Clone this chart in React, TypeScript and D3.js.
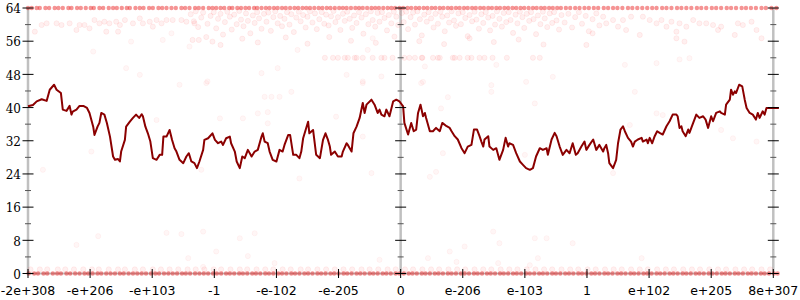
import React from 'react';
import * as d3 from 'd3';

// x positions are in "ordered float" units: 100 units per labelled tick
const xTickPos = [-600, -500, -400, -300, -200, -100, 0, 100, 200, 300, 400, 500, 600];
const xTickLabels = ['-2e+308', '-e+206', '-e+103', '-1', '-e-102', '-e-205', '0', 'e-206', 'e-103', '1', 'e+102', 'e+205', '8e+307'];
const yMajorTicks = [0, 8, 16, 24, 32, 40, 48, 56, 64];
const yMinorTicks = [4, 12, 20, 28, 36, 44, 52, 60];
const axisXs = [-600, 0, 600];

// moving-average line
const lineXs = [
  -600, -592, -586, -578, -570, -565, -558, -554, -547, -544, -538, -533, -530, -528, -522, -517, -511, -505, -501, -495,
  -493, -488, -485, -482, -477, -473, -468, -463, -460, -455, -452, -450, -444, -442, -436, -431, -426, -421, -417, -415,
  -411, -407, -403, -399, -393, -388, -384, -382, -377, -372, -368, -364, -361, -356, -350, -345, -341, -337, -332, -328,
  -324, -318, -316, -310, -303, -299, -294, -289, -286, -281, -275, -273, -267, -264, -259, -255, -251, -246, -240, -235,
  -230, -224, -222, -219, -214, -211, -206, -200, -195, -190, -187, -181, -178, -173, -168, -163, -160, -157, -153, -149,
  -147, -141, -136, -130, -125, -121, -117, -114, -112, -106, -101, -95, -93, -87, -85, -79, -76, -71, -66, -61,
  -58, -55, -47, -42, -37, -34, -31, -26, -23, -18, -12, -7, -2,
  0, 4, 6, 12, 17, 21, 25, 28, 32, 36, 39, 41, 47, 52, 57, 63, 67, 74, 79, 82,
  87, 92, 98, 103, 108, 114, 118, 123, 127, 130, 133, 135, 141, 143, 149, 154, 159, 165, 169, 173,
  175, 181, 186, 192, 197, 202, 208, 213, 218, 224, 229, 235, 237, 243, 248, 251, 256, 261, 267, 272,
  277, 282, 285, 291, 296, 299, 304, 310, 315, 320, 326, 328, 331, 334, 336, 342, 347, 350, 354, 358,
  361, 366, 371, 374, 377, 382, 388, 390, 396, 398, 401, 405, 409, 413, 417, 422, 428, 433, 438, 444,
  446, 449, 452, 454, 459, 463, 465, 468, 471, 473, 476, 481, 487, 491, 495, 500, 503, 505, 508, 514,
  516, 522, 524, 530, 532, 535, 538, 540, 545, 550, 554, 557, 562, 567, 572, 575, 578, 583, 586, 589,
  600, 609,
];
const lineValues = [
  40.3, 40.6, 41.5, 42.0, 41.6, 44.3, 45.5, 44.3, 43.5, 39.5, 39.2, 40.4, 38.3, 39.0, 39.5, 40.4, 40.4, 39.9, 38.7, 35.4,
  33.4, 35.4, 36.3, 38.7, 38.3, 36.3, 33.0, 28.2, 27.4, 27.6, 27.0, 29.4, 32.2, 35.4, 36.6, 37.5, 38.3, 37.5, 38.4, 37.9,
  35.4, 33.8, 31.8, 27.8, 27.4, 28.6, 28.6, 33.0, 33.0, 34.6, 32.2, 30.2, 29.4, 27.4, 26.6, 28.2, 29.0, 27.0, 26.6, 25.4,
  27.0, 29.8, 32.2, 32.6, 33.8, 32.2, 31.4, 31.8, 31.0, 32.6, 33.0, 31.4, 29.4, 27.0, 25.4, 28.2, 27.8, 29.8, 28.2, 29.4,
  29.8, 33.0, 33.8, 31.8, 31.4, 29.4, 27.4, 27.0, 29.8, 29.4, 31.0, 33.4, 33.4, 28.6, 28.6, 27.8, 29.4, 32.6, 34.6, 36.6,
  33.8, 34.6, 28.6, 27.8, 32.2, 33.8, 32.2, 30.6, 28.6, 29.4, 28.2, 28.2, 29.4, 31.4, 31.0, 29.4, 33.8, 35.4, 37.5, 41.1,
  38.7, 40.7, 41.9, 40.7, 38.7, 39.5, 38.3, 37.9, 39.5, 37.9, 41.5, 41.9, 41.5,
  41.1, 40.3, 36.3, 33.5, 36.3, 34.3, 34.7, 38.7, 40.7, 37.9, 38.7, 37.5, 34.3, 34.3, 35.1, 34.3, 36.3, 35.5, 35.1, 34.3,
  33.1, 32.3, 30.2, 29.0, 30.6, 31.0, 34.7, 34.7, 33.1, 31.8, 30.6, 32.3, 33.1, 30.6, 29.8, 30.2, 27.4, 29.8, 32.7, 30.6,
  31.4, 31.0, 29.0, 27.0, 26.2, 25.4, 25.0, 25.4, 28.2, 30.2, 29.8, 30.2, 28.6, 32.3, 33.9, 33.1, 30.6, 28.6, 29.8, 29.0,
  31.4, 28.6, 29.0, 30.6, 31.8, 29.8, 31.0, 32.3, 29.8, 31.0, 29.4, 30.2, 31.0, 29.0, 26.6, 25.4, 27.4, 31.4, 34.7, 35.5,
  34.3, 32.7, 31.8, 30.6, 31.8, 32.3, 32.7, 31.8, 32.3, 31.4, 32.7, 31.4, 33.1, 34.3, 33.9, 33.5, 35.5, 36.7, 38.3, 38.3,
  37.9, 35.1, 35.5, 34.3, 33.1, 34.7, 33.9, 35.1, 36.3, 37.1, 38.3, 37.5, 37.9, 37.1, 35.1, 37.9, 36.7, 37.5, 38.7, 39.1,
  38.7, 38.3, 40.7, 41.9, 44.3, 43.1, 43.9, 43.5, 45.5, 45.1, 41.9, 39.9, 38.7, 38.3, 37.1, 38.7, 37.5, 39.1, 38.3, 39.9,
  39.9, 39.9,
];

// samples sitting exactly at 64
const samplesAt64 = [
  -600, -594, -586, -581, -572, -566, -557, -551, -544, -535, -530, -521, -515, -507, -499, -494, -485, -479, -470, -463,
  -457, -449, -441, -436, -427, -420, -414, -405, -399, -390, -384, -377, -369, -362, -353, -347, -340, -331, -325, -318,
  -309, -303, -297, -290, -284, -276, -271, -263, -257, -250, -244, -236, -231, -224, -217, -211, -204, -198, -191, -185,
  -178, -171, -165, -158, -152, -146, -139, -132, -126, -119, -113, -106, -99, -93, -87, -80, -73, -67, -61, -54,
  -47, -41, -35, -28, -21, -15, -9, -2, 4, 11, 17, 24, 30, 37, 43, 50, 56, 63, 69, 76,
  82, 89, 95, 102, 108, 115, 121, 128, 134, 141, 147, 154, 160, 167, 173, 180, 186, 193, 199, 206,
  213, 219, 226, 232, 239, 245, 252, 258, 266, 273, 281, 288, 296, 303, 311, 318, 327, 334, 342, 349,
  357, 366, 373, 381, 389, 397, 405, 412, 421, 428, 436, 445, 452, 460, 468, 477, 484, 492, 501, 508,
  516, 525, 532, 540, 549, 556, 564, 572, 581, 588, 597, 605,
];
// samples sitting exactly at 0
const samplesAt0 = [
  -599, -590, -584, -575, -569, -560, -553, -547, -538, -532, -524, -517, -509, -503, -496, -488, -482, -474, -467, -460,
  -452, -446, -438, -431, -424, -417, -410, -402, -395, -389, -381, -374, -367, -360, -352, -346, -339, -331, -324, -317,
  -310, -302, -296, -289, -281, -275, -268, -260, -254, -247, -239, -233, -226, -218, -212, -205, -197, -191, -184, -176,
  -170, -163, -155, -149, -142, -134, -128, -121, -113, -107, -100, -92, -86, -79, -71, -65, -58, -50, -44, -37,
  -29, -23, -16, -8, -2, 5, 13, 19, 26, 34, 40, 47, 55, 61, 68, 76, 82, 89, 97, 103,
  110, 118, 124, 131, 139, 145, 152, 160, 166, 173, 181, 187, 194, 202, 208, 215, 223, 229, 236, 244,
  250, 257, 265, 271, 278, 286, 292, 299, 307, 313, 320, 328, 334, 341, 349, 355, 362, 370, 376, 383,
  391, 397, 404, 412, 418, 425, 433, 439, 446, 454, 460, 467, 475, 481, 488, 496, 502, 509, 517, 523,
  530, 538, 544, 551, 559, 565, 572, 580, 586, 593, 601, 607,
];
// samples sitting at 1
const samplesAt1 = [
  -596, -581, -569, -552, -540, -526, -511, -497, -486, -470, -455, -444, -428, -415, -399, -386, -372, -358, -343, -330,
  -316, -301, -289, -274, -259, -247, -232, -218, -205, -190, -177, -161, -149, -134, -120, -106, -92, -78, -63, -50,
  -36, -21, -8, 7, 20, 35, 49, 62, 77, 91, 104, 119, 133, 146, 161, 175, 188, 203, 217, 231,
  244, 259, 273, 286, 301, 314, 329, 343, 356, 371, 385, 398, 413, 427, 440, 455, 469, 482, 497, 511,
  524, 539, 553, 566, 581, 595,
];
// samples sitting at 52
const samplesAt52 = [
  -122, -109, -101, -90, -85, -74, -71, -61, -45, -31, -26, -13, 6, 14, 23, 34, 35, 52, 60, 63,
  84, 87, 95, 108, 114, 127, 135, 148, 171, 213, 224,
];
// other samples [x, value]
const samplesTop: [number, number][] = [
  [-589, 58.3], [-578, 59.9], [-570, 60.3], [-554, 60.3], [-546, 59.9], [-533, 60.3], [-517, 59.9], [-509, 59.9], [-501, 59.1], [-493, 61.1],
  [-485, 60.3], [-477, 60.7], [-469, 60.3], [-458, 60.7], [-444, 61.1], [-452, 59.9], [-431, 60.3], [-420, 61.5], [-415, 60.3], [-404, 60.7],
  [-393, 61.1], [-385, 60.3], [-377, 61.1], [-367, 61.1], [-353, 61.1], [-345, 60.7], [-335, 56.3], [-332, 60.3], [-522, 58.7], [-474, 58.3],
  [-455, 58.3], [-399, 59.5],
  [-338, 62.5], [-333, 60.8], [-330, 63.2], [-326, 59.4], [-321, 61.7], [-318, 62.9], [-313, 57.0], [-311, 60.2], [-306, 62.1], [-303, 55.9],
  [-301, 63.0], [-297, 59.1], [-294, 61.4], [-290, 62.6], [-286, 57.6], [-283, 60.6], [-279, 63.1], [-275, 61.9], [-272, 58.8], [-268, 62.4],
  [-264, 60.1], [-260, 63.3], [-257, 61.2], [-253, 59.6], [-249, 62.7], [-246, 60.9], [-242, 57.9], [-238, 62.2], [-235, 60.4], [-231, 63.0],
  [-228, 61.5], [-224, 59.0], [-220, 62.6], [-216, 60.7], [-213, 62.9], [-209, 58.5], [-205, 61.8], [-202, 63.2], [-198, 60.3], [-194, 62.1],
  [-191, 59.6], [-187, 61.4], [-183, 63.0], [-179, 60.0], [-176, 62.5], [-172, 58.2], [-168, 61.7], [-164, 63.1], [-161, 60.8], [-157, 62.3],
  [-153, 59.3], [-150, 61.9], [-146, 63.2], [-142, 60.5], [-138, 62.7], [-135, 58.9], [-131, 61.3], [-127, 63.0], [-123, 60.2], [-120, 62.4],
  [-116, 59.8], [-112, 62.0], [-108, 63.3], [-105, 60.6], [-101, 61.8], [-97, 58.7], [-93, 62.6], [-90, 60.9], [-86, 63.1], [-82, 61.4],
  [-78, 59.2], [-75, 62.2], [-71, 60.4], [-67, 63.0], [-63, 61.7], [-60, 57.8], [-56, 62.5], [-52, 60.1], [-48, 63.2], [-45, 61.1],
  [-41, 59.5], [-37, 62.8], [-34, 60.7], [-30, 63.0], [-26, 61.6], [-22, 58.6], [-19, 62.3], [-15, 60.3], [-11, 63.1], [-7, 61.9],
  [-4, 59.9],
  [2, 62.8], [5, 60.6], [9, 63.1], [12, 58.9], [16, 61.8], [20, 62.9], [23, 60.0], [27, 63.2], [31, 61.3], [34, 57.4],
  [38, 62.4], [42, 60.7], [45, 63.0], [49, 61.5], [53, 59.3], [56, 62.6], [60, 60.2], [64, 63.1], [67, 61.9], [71, 58.4],
  [75, 62.2], [78, 60.5], [82, 63.2], [86, 61.0], [89, 59.7], [93, 62.7], [97, 60.1], [100, 63.0], [104, 61.6], [108, 57.2],
  [111, 62.3], [115, 60.8], [119, 63.1], [122, 61.2], [126, 59.0], [130, 62.5], [133, 60.4], [137, 63.0], [141, 61.7], [144, 58.6],
  [148, 62.1], [152, 60.0], [155, 63.2], [159, 61.4], [163, 59.5], [166, 62.8], [170, 60.6], [174, 63.0], [177, 61.1], [181, 58.0],
  [185, 62.4], [188, 60.3], [192, 63.1], [196, 61.8], [199, 59.2], [203, 62.6], [207, 60.9], [210, 63.0], [214, 61.3], [218, 57.7],
  [221, 62.2], [225, 60.1], [229, 63.1], [232, 61.5], [236, 59.4], [240, 62.7], [244, 60.4], [247, 63.0], [251, 61.0], [255, 58.8],
  [259, 62.3], [264, 60.5], [270, 62.6], [276, 59.3], [281, 61.8], [287, 63.0], [292, 60.2], [298, 62.1], [303, 58.4], [309, 61.3],
  [315, 62.7], [320, 59.8],
  [-325, 56.3], [-290, 55.1], [-255, 56.6], [-230, 55.7], [-185, 56.9], [-150, 55.4], [-115, 57.0], [-80, 56.1], [-40, 55.6], [-10, 57.1],
  [30, 56.0], [70, 55.3], [111, 56.7], [150, 55.8], [190, 56.4], [230, 55.2], [299, 55.1], [309, 57.9],
  [326, 61.9], [331, 60.3], [342, 61.1], [350, 59.5], [358, 61.1], [363, 58.7], [371, 61.9], [385, 57.5], [390, 61.9], [401, 61.1],
  [412, 60.3], [420, 61.1], [428, 59.5], [436, 60.7], [444, 58.3], [449, 60.3], [460, 59.5], [471, 61.1], [481, 60.3], [492, 60.3],
  [503, 59.9], [511, 58.7], [516, 59.5], [538, 57.5], [543, 60.3], [551, 59.9], [565, 60.7], [573, 58.7], [581, 56.7], [444, 56.7],
  [457, 55.9],
];
const samplesSparse: [number, number][] = [
  [-495, 53.5], [-442, 49.5], [-420, 47.9], [-356, 45.5], [-224, 48.3], [-198, 49.5], [-87, 47.9], [-61, 46.3], [-31, 47.5], [-311, 46.3],
  [-219, 42.6], [-208, 42.6], [-195, 42.6], [-176, 43.8], [-166, 53.9], [-53, 53.9], [-45, 56.7], [39, 49.9], [154, 50.3], [36, 46.2],
  [202, 46.2], [245, 47.4], [146, 45.4], [146, 43.8], [76, 42.5], [-393, 37.0], [-498, 29.4], [-576, 25.0], [-313, 45.9], [-61, 45.9],
  [-291, 37.4], [-254, 37.4], [-230, 38.6], [-214, 38.9], [-214, 36.2], [-104, 37.8], [-61, 33.0], [-321, 25.0], [-163, 22.9], [-47, 24.2],
  [33, 45.9], [65, 39.8], [216, 41.0], [68, 29.0], [200, 28.6], [57, 24.5], [47, 23.3], [377, 43.8], [412, 38.6], [422, 38.2],
  [369, 35.8], [516, 34.6], [535, 32.6], [573, 31.8], [342, 24.2], [-487, 9.0], [-522, 6.9], [-377, 9.8], [-353, 9.5], [-318, 10.1],
  [-259, 8.5], [-235, 9.7], [-297, 5.3], [-342, 3.7], [-246, 4.2], [-318, 1.6], [-203, 2.5], [-34, 3.3], [44, 3.7], [79, 5.3],
  [103, 6.5], [90, 2.8], [149, 10.1], [159, 7.3], [157, 2.5], [208, 2.0], [216, 8.5], [235, 8.5], [277, 7.3], [221, 3.7],
  [388, 3.7], [361, 50.3], [412, 50.7], [449, 51.6], [465, 51.9], [-383, 56.3], [-369, 57.9], [-340, 54.7], [-434, 55.9],
];

export default function App() {
  const W = 800;
  const H = 300;
  const x = d3.scaleLinear().domain([-600, 600]).range([28, 773.3]);
  const y = d3.scaleLinear().domain([0, 64]).range([273.5, 8]);
  const linePts: [number, number][] = lineXs.map((v, i) => [v, lineValues[i]]);
  const lineGen = d3.line<[number, number]>().x((d) => x(d[0])).y((d) => y(d[1]));

  const dense: [number, number][] = [
    ...samplesAt64.map((v) => [v, 64] as [number, number]),
    ...samplesAt0.map((v) => [v, 0] as [number, number]),
  ];
  const faint: [number, number][] = [
    ...samplesAt1.map((v) => [v, 1] as [number, number]),
    ...samplesAt52.map((v) => [v, 52] as [number, number]),
    ...samplesTop,
  ];
  const veryFaint: [number, number][] = samplesSparse;

  return (
    <svg width={W} height={H} style={{ position: 'absolute', left: 0, top: 0, background: '#fff' }}>
      {/* axis lines */}
      {axisXs.map((a) => (
        <line key={'ax' + a} x1={x(a)} x2={x(a)} y1={y(64)} y2={y(0)} stroke="#c0c0c0" strokeWidth={2.5} />
      ))}
      <line x1={x(-600)} x2={x(600)} y1={y(0)} y2={y(0)} stroke="#c0c0c0" strokeWidth={2} />
      {/* samples */}
      <g>
        {veryFaint.map((d, i) => (
          <circle key={'v' + i} cx={x(d[0])} cy={y(d[1])} r={2.6} fill="rgba(255,0,0,0.035)" stroke="rgba(255,0,0,0.04)" strokeWidth={1} />
        ))}
        {faint.map((d, i) => (
          <circle key={'l' + i} cx={x(d[0])} cy={y(d[1])} r={2.6} fill="rgba(255,0,0,0.06)" stroke="rgba(255,0,0,0.06)" strokeWidth={1} />
        ))}
        {dense.map((d, i) => (
          <circle key={'d' + i} cx={x(d[0])} cy={y(d[1])} r={2.2} fill="rgba(230,0,0,0.42)" stroke="none" />
        ))}
      </g>
      {/* line */}
      <path d={lineGen(linePts) || ''} fill="none" stroke="#8b0000" strokeWidth={2} strokeLinejoin="round" />
      {/* y ticks on all three vertical axes */}
      {axisXs.map((a) => (
        <g key={'t' + a}>
          {yMajorTicks.map((t) => (
            <line key={'M' + t} x1={x(a) - 5.5} x2={x(a) + 5.5} y1={y(t)} y2={y(t)} stroke="#000" strokeWidth={1} />
          ))}
          {yMinorTicks.map((t) => (
            <line key={'m' + t} x1={x(a) - 3} x2={x(a) + 3} y1={y(t)} y2={y(t)} stroke="#555" strokeWidth={1} />
          ))}
        </g>
      ))}
      {/* y labels */}
      {yMajorTicks.map((t) => (
        <text key={'yl' + t} x={21} y={y(t) + 5.3} textAnchor="end" fontFamily="DejaVu Serif" fontSize={12} fill="#000">
          {t}
        </text>
      ))}
      {/* x ticks & labels */}
      {xTickPos.map((p, i) => (
        <g key={'xt' + p}>
          <line x1={x(p)} x2={x(p)} y1={y(0) - 4.5} y2={y(0) + 4.5} stroke="#000" strokeWidth={1} />
          <text x={x(p)} y={294.5} textAnchor="middle" fontFamily="DejaVu Sans" fontSize={12.5} fill="#000">
            {xTickLabels[i]}
          </text>
        </g>
      ))}
    </svg>
  );
}
